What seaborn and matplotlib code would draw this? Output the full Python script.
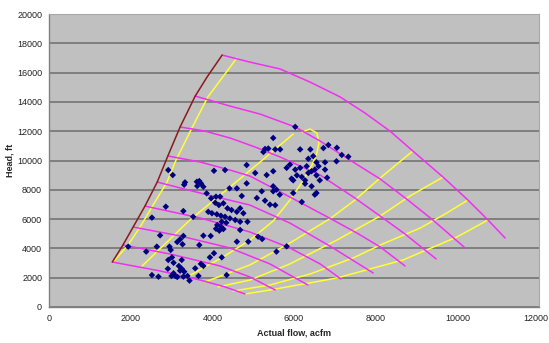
import matplotlib
matplotlib.use("Agg")
import matplotlib.pyplot as plt
import matplotlib.transforms as mtransforms
import seaborn as sns
import pandas as pd

# ---------------- speed lines (magenta) ----------------
speed1_flow = [4240, 4920, 5660, 6390, 7130, 7740, 8350, 8910, 9650, 10260, 10750, 11170]
speed1_head = [17200, 16720, 16250, 15360, 14340, 13240, 12010, 10650, 8870, 7300, 5940, 4710]
speed2_flow = [3580, 4430, 5170, 6030, 6640, 7370, 8110, 8790, 9400, 10190]
speed2_head = [14400, 13720, 13170, 12290, 11330, 10030, 8740, 7300, 5940, 4030]
speed3_flow = [3210, 3820, 4430, 5050, 5660, 6640, 7490, 8110, 8720, 9480]
speed3_head = [12290, 12010, 11540, 10920, 10240, 9010, 7440, 6210, 4980, 3280]
speed4_flow = [2910, 3700, 4430, 4920, 5900, 6910, 7540, 8110, 8720]
speed4_head = [10310, 9900, 9350, 8940, 7510, 6010, 5050, 4100, 2800]
speed5_flow = [2650, 3700, 4920, 5900, 6880, 7940]
speed5_head = [8530, 7780, 6960, 5730, 4160, 2320]
speed6_flow = [2350, 3700, 4920, 5900, 6640, 7150]
speed6_head = [6890, 6080, 5120, 4030, 2940, 1910]
speed7_flow = [2060, 3210, 4430, 5410, 6340]
speed7_head = [5460, 4850, 4030, 2940, 1500]
speed8_flow = [1810, 2960, 4190, 4920, 5540]
speed8_head = [4230, 3620, 2800, 2050, 1160]
speed9_flow = [1550, 2720, 3700, 4310, 4800]
speed9_head = [3070, 2460, 1840, 1370, 890]

# ---------------- surge line (brown) ----------------
surge_flow = [1550, 1810, 2060, 2350, 2650, 2910, 3210, 3580, 3870, 4240]
surge_head = [3070, 4230, 5460, 6890, 8530, 10310, 12290, 14400, 15700, 17200]

# ---------------- efficiency lines (yellow) ----------------
eff1_flow = [1570, 1935, 2230, 2520, 2890, 3110, 3500, 3890, 4600]
eff1_head = [3070, 4230, 5460, 6830, 8530, 10030, 12220, 14340, 17000]
eff2_flow = [2280, 3450, 4430, 5170, 5980]
eff2_head = [2800, 5940, 8190, 9900, 11810]
eff3_flow = [3380, 4260, 4920, 5490, 5900, 6200, 6440, 6560, 6610, 6560, 6390, 6200]
eff3_head = [2050, 3410, 4570, 5870, 7300, 8530, 9690, 10510, 11200, 11880, 12150, 11950]
eff4_flow = [3820, 4920, 5900, 6910, 7490, 8110, 8910]
eff4_head = [1710, 2870, 4370, 6080, 7300, 8810, 10650]
eff5_flow = [4140, 4920, 5900, 7050, 8110, 8840, 9650]
eff5_head = [1370, 1840, 2940, 4570, 6210, 7580, 8870]
eff6_flow = [4510, 5410, 6390, 7450, 8110, 9090, 9700, 10260]
eff6_head = [1090, 1500, 2250, 3350, 4230, 5390, 6350, 7300]
eff7_flow = [4800, 5410, 7050, 8670, 9990, 10750]
eff7_head = [890, 1160, 1980, 3210, 4780, 5940]

# ---------------- operating points (navy) ----------------
points_flow = [
    6030, 5490, 5370, 5290, 5250, 5540, 5660, 6150, 6400, 6840, 7050, 6720, 7170, 7330,
    7040, 6470, 6350, 6550, 6760, 6600, 6760, 6510, 6310, 6150, 6030, 5900, 5820, 6070,
    6190, 6270, 5940, 5980, 6350, 6430, 6550, 6270, 6630, 6810, 6430, 6550, 6510, 5980,
    6190, 5490, 5330, 5050, 5210, 5490, 5570, 5650, 5490, 5090, 5290, 5410, 5540,
    2920, 3030, 4040, 4310, 4840, 3330, 3310, 3620, 3680, 3720, 3630, 3780, 4420, 4600,
    4720, 4840, 3860, 3970, 4090, 4190, 3290, 2860, 2520, 4070, 4160, 4270, 4370, 4470,
    4600, 4680, 4760, 3900, 3990, 4110, 4210, 4310, 4430, 4560, 4680, 4230, 4340, 4120,
    4210, 4270, 4170, 4090, 4680, 4860, 3530, 3780, 3960, 3290, 3210, 3140, 2720, 2640,
    2380, 2950, 2980, 2920, 3010, 3050, 2910, 3250, 3180, 3250, 3310, 3210, 3050, 3000,
    3090, 3140, 3290, 3390, 2520, 2680, 3440, 3580, 3660, 3720, 3780, 3940, 4040, 4230,
    4350, 4600, 4880, 3680, 3270, 1940, 5820, 5570, 5120, 5220,
]
points_head = [
    12300, 11540, 10820, 10790, 10580, 10760, 10760, 10760, 10760, 11060, 10870, 10850, 10380, 10260,
    9950, 10300, 10120, 9880, 9880, 9610, 9380, 9380, 9610, 9500, 9380, 9720, 9500, 8990,
    8880, 8650, 8760, 8650, 9150, 9270, 8990, 8420, 8650, 8830, 8240, 7780, 7670, 7780,
    7170, 9270, 9010, 9150, 7900, 8240, 8010, 7670, 7900, 7440, 7260, 6990, 6950,
    9350, 9010, 9300, 9350, 9690, 8510, 8350, 8550, 8600, 8440, 8260, 8210, 8100, 8100,
    7580, 8440, 7760, 7420, 7530, 7530, 6550, 6850, 6100, 7120, 6960, 7080, 6740, 6620,
    6500, 6740, 6400, 6500, 6400, 6330, 6230, 6160, 6050, 5940, 5820, 5820, 5750, 5600,
    5480, 5320, 5210, 5340, 5260, 5820, 6160, 4870, 4850, 4850, 4620, 4440, 4890, 4120,
    3780, 4120, 3890, 3210, 3390, 3020, 2610, 3210, 2800, 2610, 2410, 2480, 2300, 2120,
    2120, 2050, 2070, 2120, 2180, 2070, 1800, 2640, 2120, 2940, 2800, 3390, 3670, 3390,
    2180, 4460, 4460, 4230, 4280, 4120, 4140, 3780, 4800, 4640,
]

speeds = [(speed1_flow, speed1_head), (speed2_flow, speed2_head), (speed3_flow, speed3_head),
          (speed4_flow, speed4_head), (speed5_flow, speed5_head), (speed6_flow, speed6_head),
          (speed7_flow, speed7_head), (speed8_flow, speed8_head), (speed9_flow, speed9_head)]
effs = [(eff1_flow, eff1_head), (eff2_flow, eff2_head), (eff3_flow, eff3_head),
        (eff4_flow, eff4_head), (eff5_flow, eff5_head), (eff6_flow, eff6_head),
        (eff7_flow, eff7_head)]

sns.set_style("white")
plt.rcParams["font.family"] = ["Liberation Sans", "DejaVu Sans"]

fig = plt.figure(figsize=(5.49, 3.43), dpi=100)
ax = fig.add_axes([0.0893, 0.105, 0.8925, 0.854])
ax.set_facecolor("#C0C0C0")

for fl, hd in effs:
    sns.lineplot(x=fl, y=hd, sort=False, estimator=None, color="#FFFF33", lw=1.1, ax=ax, zorder=2)
for fl, hd in speeds:
    sns.lineplot(x=fl, y=hd, sort=False, estimator=None, color="#F030F0", lw=1.1, ax=ax, zorder=3)
sns.lineplot(x=surge_flow, y=surge_head, sort=False, estimator=None, color="#8B1A1A", lw=1.1, ax=ax, zorder=3)

pts = pd.DataFrame({"flow": points_flow, "head": points_head})
sns.scatterplot(data=pts, x="flow", y="head", marker="D", s=11, color="#000080",
                edgecolor="none", linewidth=0, ax=ax, zorder=4)

ax.set_xlim(0, 12000)
ax.set_ylim(0, 20000)
ax.set_xticks(range(0, 12001, 2000))
ax.set_yticks(range(0, 20001, 2000))
ax.grid(axis="y", color="#7A7A7A", lw=1.3)
ax.grid(axis="x", visible=False)
ax.set_axisbelow(True)
for s in ["left", "bottom"]:
    ax.spines[s].set_color("#808080")
    ax.spines[s].set_linewidth(1.0)
for s in ["top", "right"]:
    ax.spines[s].set_color("#A8A8A8")
    ax.spines[s].set_linewidth(0.8)
ax.tick_params(direction="out", length=3, width=0.8, colors="#808080",
               labelcolor="#222222", labelsize=6.5, pad=2)
ax.set_xlabel("Actual flow, acfm", fontsize=6.5, fontweight="bold", labelpad=4)
ax.set_ylabel("Head, ft", fontsize=6.5, fontweight="bold", labelpad=2)

# keep the last x tick label inside the canvas
last = ax.get_xticklabels()[-1]
last.set_transform(last.get_transform() + mtransforms.ScaledTranslation(-3 / 100, 0, fig.dpi_scale_trans))

fig.savefig("out.png", dpi=100)
